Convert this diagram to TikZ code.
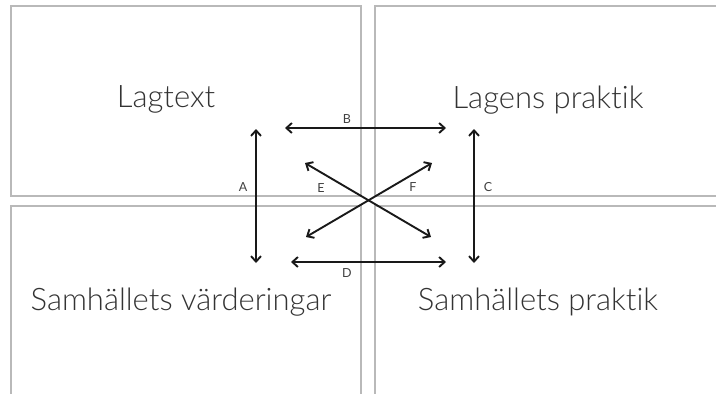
\documentclass[tikz,border=0pt]{standalone}
\usepackage{fontspec}
\setmainfont{Lato}[UprightFont=* Light, Ligatures=NoCommon]
\newfontfamily\labelfont{Lato}[Ligatures=NoCommon]
\usetikzlibrary{arrows.meta}

\begin{document}
\begin{tikzpicture}[x=1pt, y=-1pt]
    \tikzset{
        panel/.style={draw=gray!55, line width=1.5pt},
        relation/.style={
                {Straight Barb[length=5.5pt, width=10pt, line width=1.9pt]}-{Straight Barb[length=5.5pt, width=10pt, line width=1.9pt]},
                line width=1.9pt, black!90
            },
        area label/.style={font=\fontsize{31}{36}\selectfont, text=black!80, anchor=base},
        relation label/.style={font=\labelfont\fontsize{12.5}{14}\selectfont, text=black!75}
    }
    \useasboundingbox (0,0) rectangle (716,394);
    \clip (0,0) rectangle (716,394);

    % four panels
    \draw[panel] (11,6) rectangle (361,196);
    \draw[panel] (375,6) rectangle (730,196);
    \draw[panel] (11,206) rectangle (361,410);
    \draw[panel] (375,206) rectangle (730,410);

    \node[area label] (lagtext) at (166,107) {Lagtext};
    \node[area label] (lagpraktik) at (548,108) {Lagens praktik};
    \node[area label] (varderingar) at (181,310) {Samhällets värderingar};
    \node[area label] (samhpraktik) at (538,310) {Samhällets praktik};

    % arrow ends
    \coordinate (a1) at (256,129);
    \coordinate (a2) at (256,263);
    \coordinate (b1) at (285,128);
    \coordinate (b2) at (446,128);
    \coordinate (c1) at (474,129);
    \coordinate (c2) at (474,263);
    \coordinate (d1) at (291,262);
    \coordinate (d2) at (446,262);
    \coordinate (e1) at (305,163);
    \coordinate (e2) at (431,237);
    \coordinate (f1) at (306,237);
    \coordinate (f2) at (432,163);

    \draw[relation] (a1) -- (a2);
    \draw[relation] (b1) -- (b2);
    \draw[relation] (c1) -- (c2);
    \draw[relation] (d1) -- (d2);
    \draw[relation] (e1) -- (e2);
    \draw[relation] (f1) -- (f2);

    \node[relation label] (la) at (243,187) {A};
    \node[relation label] (lb) at (347,119) {B};
    \node[relation label] (lc) at (488,187) {C};
    \node[relation label] (ld) at (347,273) {D};
    \node[relation label] (le) at (321,188) {E};
    \node[relation label] (lf) at (413,187) {F};
\end{tikzpicture}
\end{document}
